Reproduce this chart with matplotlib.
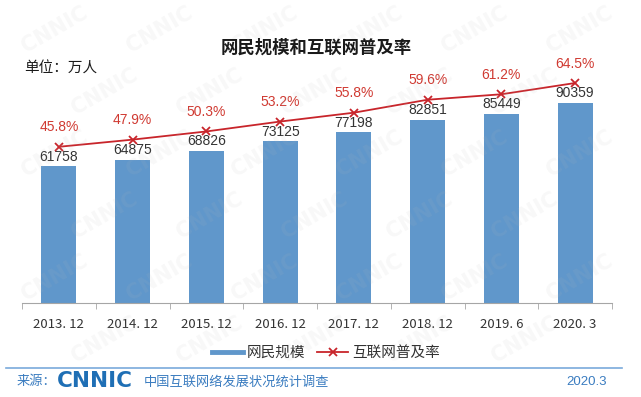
import matplotlib
matplotlib.use('Agg')
import matplotlib.pyplot as plt
from matplotlib.lines import Line2D

# data
periods = ['2013. 12', '2014. 12', '2015. 12', '2016. 12', '2017. 12', '2018. 12', '2019. 6', '2020. 3']
netizens = [61758, 64875, 68826, 73125, 77198, 82851, 85449, 90359]   # 万人
penetration = [45.8, 47.9, 50.3, 53.2, 55.8, 59.6, 61.2, 64.5]        # %

bar_color = '#6097cb'
line_color = '#c8252b'
pct_color = '#d03a32'
blue_text = '#3a7cc0'
cjk = ['Noto Sans CJK SC', 'DejaVu Sans']
latin = ['Liberation Sans', 'DejaVu Sans']

plt.rcParams['font.family'] = latin

fig = plt.figure(figsize=(6.41, 3.97), dpi=100)
W, H = 641, 397

def fx(px):
    return px / W

def fy(py):
    return 1 - py / H

# faint watermark, kept inside the picture
for row in range(6):
    for col in range(6):
        px = 55 + col * 105 + (row % 2) * 50
        py = 30 + row * 62
        if px > 600:
            continue
        fig.text(fx(px), fy(py), 'CNNIC', family=['DejaVu Sans'], fontsize=15,
                 fontweight='bold', rotation=30, color='#b8b8b8', alpha=0.10,
                 ha='center', va='center', zorder=0)

ax = fig.add_axes([fx(22), fy(303), fx(612) - fx(22), fy(53) - fy(303)])
ax.set_facecolor('none')
x = list(range(len(periods)))

ax.bar(x, netizens, width=0.475, color=bar_color, zorder=2)
ax.set_xlim(-0.5, len(periods) - 0.5)
ax.set_ylim(0, 113100)
for xi, v in zip(x, netizens):
    ax.annotate(str(v), (xi, v), xytext=(0, 2), textcoords='offset points',
                ha='center', va='bottom', fontsize=10, color='#333333')

ax2 = ax.twinx()
ax2.set_ylim(0, 73.3)
ax2.plot(x, penetration, color=line_color, lw=1.3, marker='x', ms=6, mew=1.3, zorder=3)
for xi, p in zip(x, penetration):
    ax2.annotate(f'{p}%', (xi, p), xytext=(0, 9), textcoords='offset points',
                 ha='center', va='bottom', fontsize=10, color=pct_color)

for a in (ax, ax2):
    for s in ('top', 'right', 'left'):
        a.spines[s].set_visible(False)
    a.set_yticks([])
ax2.spines['bottom'].set_visible(False)
ax.spines['bottom'].set_color('#a6a6a6')

ax.set_xticks(x)
ax.set_xticklabels(periods, family=cjk, fontsize=9.5, color='#333333')
ax.tick_params(axis='x', which='major', length=0, pad=11)
ax.set_xticks([i - 0.5 for i in range(len(periods) + 1)], minor=True)
ax.tick_params(axis='x', which='minor', length=4, color='#a6a6a6', direction='out')

# titles
fig.text(fx(316), fy(48), '网民规模和互联网普及率', family=cjk, fontsize=12.5,
         fontweight='bold', ha='center', va='center', color='#1a1a1a')
fig.text(fx(24), fy(69), '单位：万人', family=cjk, fontsize=10.5,
         ha='left', va='center', color='#1a1a1a')

# legend
handles = [Line2D([], [], color=bar_color, lw=3.5),
           Line2D([], [], color=line_color, lw=1.3, marker='x', ms=6, mew=1.3)]
fig.legend(handles, ['网民规模', '互联网普及率'], loc='center',
           bbox_to_anchor=(fx(326), fy(353)), ncol=2, frameon=False,
           prop={'family': cjk, 'size': 10.5}, handlelength=2.1,
           handletextpad=0.3, columnspacing=0.8, labelcolor='#333333')

# footer
fig.add_artist(Line2D([fx(6), fx(622)], [fy(368), fy(368)], color='#7aaadb', lw=1.2))
fig.text(fx(17), fy(382), '来源：', family=cjk, fontsize=9.5, color=blue_text,
         ha='left', va='center')
fig.text(fx(57), fy(381), 'CNNIC', family=['DejaVu Sans'], fontsize=15.5,
         fontweight='bold', color='#1f6fb5', ha='left', va='center')
fig.text(fx(144), fy(382), '中国互联网络发展状况统计调查', family=cjk, fontsize=9.5,
         color=blue_text, ha='left', va='center')
fig.text(fx(607), fy(382), '2020.3', family=latin, fontsize=9.5, color=blue_text,
         ha='right', va='center')

fig.savefig('out.png', dpi=100)
